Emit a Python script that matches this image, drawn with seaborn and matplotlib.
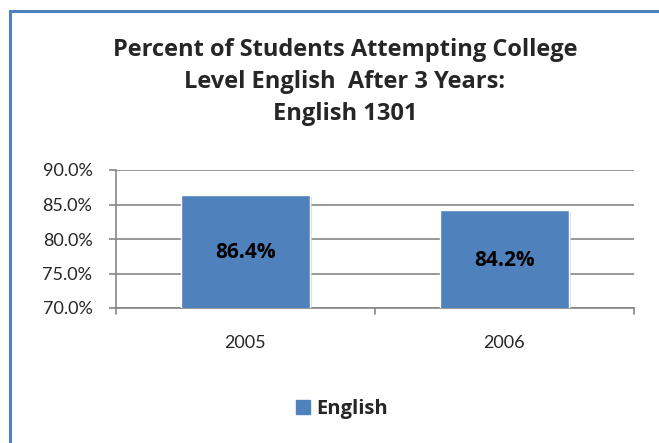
import matplotlib
matplotlib.use("Agg")
import matplotlib.pyplot as plt
import matplotlib.patches as mpatches
import seaborn as sns
import pandas as pd
from matplotlib.ticker import FuncFormatter, MultipleLocator

years = ["2005", "2006"]
values = [86.4, 84.2]
series_name = "English"
title = "Percent of Students Attempting College\nLevel English  After 3 Years:\nEnglish 1301"

df = pd.DataFrame({"Year": years, "Percent": values, "Series": [series_name] * len(years)})

sns.set_style("white")
plt.rcParams["font.family"] = ["Lato", "DejaVu Sans"]
BOLD = ["Open Sans", "DejaVu Sans"]

W, H = 659, 443
fig = plt.figure(figsize=(W / 100, H / 100), dpi=100)
ax = fig.add_axes([116 / W, 1 - 308 / H, (634 - 116) / W, (308 - 170) / H])

bar_color = "#4F81BD"
sns.barplot(data=df, x="Year", y="Percent", color=bar_color, width=0.495, ax=ax,
            saturation=1, zorder=3)

for p, v in zip(ax.patches, values):
    sh = mpatches.Rectangle((p.get_x() + 0.008, 70), p.get_width(), v - 70 - 0.25,
                            facecolor="#c8c8c8", edgecolor="none", zorder=2, alpha=0.7)
    ax.add_patch(sh)
    ax.text(p.get_x() + p.get_width() / 2, (70 + v) / 2 - 0.2, f"{v:.1f}%",
            ha="center", va="center", fontsize=15, fontweight="bold", family=BOLD,
            color="black", zorder=4)

ax.set_ylim(70, 90)
ax.set_xlim(-0.5, 1.5)
ax.yaxis.set_major_locator(MultipleLocator(5))
ax.yaxis.set_major_formatter(FuncFormatter(lambda v, _: f"{v:.1f}%"))
ax.grid(axis="y", color="#868686", linewidth=1.2, zorder=0)
ax.set_axisbelow(True)
for s in ["top", "right"]:
    ax.spines[s].set_visible(False)
for s in ["left", "bottom"]:
    ax.spines[s].set_color("#868686")
    ax.spines[s].set_linewidth(1.2)
ax.set_xlabel("")
ax.set_ylabel("")
ax.tick_params(axis="y", left=True, length=5, width=1.2, color="#868686", labelsize=13, pad=12)
ax.tick_params(axis="x", bottom=False, labelsize=13, pad=16)
for xb in [-0.5, 0.5, 1.5]:
    ax.plot([xb, xb], [0, -0.045], transform=ax.get_xaxis_transform(), color="#868686",
            linewidth=1.2, clip_on=False)

fig.text(345 / W, 1 - 82 / H, title, ha="center", va="center", fontsize=17,
         fontweight="bold", family=BOLD, linespacing=1.42)

handle = mpatches.Patch(color=bar_color, label=series_name)
fig.legend(handles=[handle], loc="center", bbox_to_anchor=(342 / W, 1 - 409 / H),
           frameon=False, handlelength=0.7, handleheight=0.7, handletextpad=0.35,
           prop={"weight": "bold", "size": 14.5, "family": BOLD})

border = mpatches.Rectangle((10 / W, -0.1), 1.2, 1 - 11 / H + 0.1, transform=fig.transFigure,
                            fill=False, edgecolor="#4F81BD", linewidth=2.2, clip_on=False)
fig.patches.append(border)

fig.savefig("out.png", dpi=100)
